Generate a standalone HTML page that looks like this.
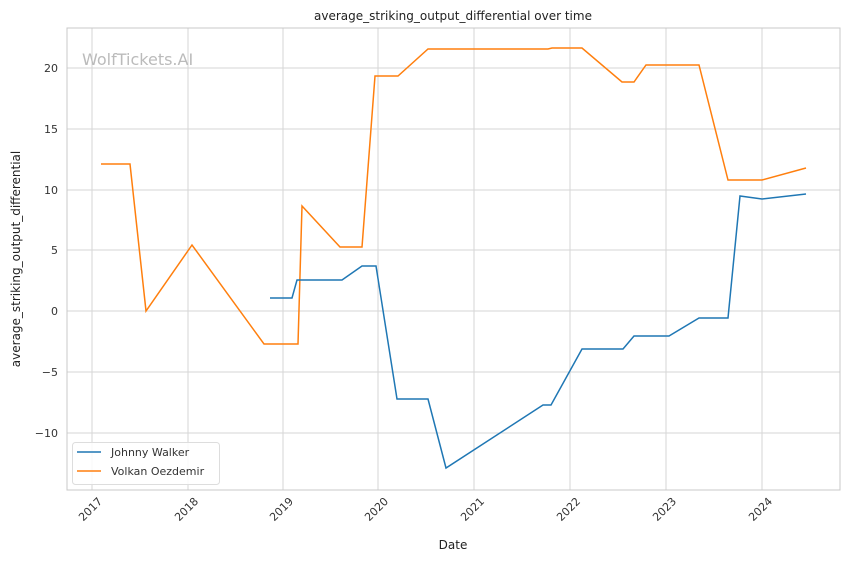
<!DOCTYPE html>
<html><head><meta charset="utf-8"><style>body{margin:0;background:#fff}svg{display:block;font-family:"DejaVu Sans","Liberation Sans",sans-serif}</style></head><body>
<svg width="850" height="561" viewBox="0 0 850 561">
<rect width="850" height="561" fill="#fff"/>
<g stroke="#d6d6d6" stroke-width="1">
<line x1="92" y1="28" x2="92" y2="490"/><line x1="188" y1="28" x2="188" y2="490"/><line x1="283" y1="28" x2="283" y2="490"/><line x1="378" y1="28" x2="378" y2="490"/><line x1="474" y1="28" x2="474" y2="490"/><line x1="570" y1="28" x2="570" y2="490"/><line x1="666" y1="28" x2="666" y2="490"/><line x1="762" y1="28" x2="762" y2="490"/>
<line x1="67" y1="68" x2="840" y2="68"/><line x1="67" y1="129" x2="840" y2="129"/><line x1="67" y1="190" x2="840" y2="190"/><line x1="67" y1="250" x2="840" y2="250"/><line x1="67" y1="311" x2="840" y2="311"/><line x1="67" y1="372" x2="840" y2="372"/><line x1="67" y1="433" x2="840" y2="433"/>
</g>
<rect x="67" y="28" width="773" height="462" fill="none" stroke="#c8c8c8"/>
<text x="82" y="65" font-size="16" fill="#bbb">WolfTickets.AI</text>
<polyline fill="none" stroke="#ff7f0e" stroke-width="1.5" points="101,164 130,164 146,311 192,245 264,344 298,344 302,206 340,247 362,247 375,76 398,76 428,49 548,49 552,48 582,48 622,82 634,82 646,65 699,65 728,180 762,180 806,168"/>
<polyline fill="none" stroke="#1f77b4" stroke-width="1.5" points="270,298 292,298 297,280 342,280 362,266 376,266 397,399 428,399 446,468 543,405 551,405 582,349 623,349 634,336 669,336 699,318 728,318 740,196 762,199 806,194"/>
<g font-size="11" fill="#333" text-anchor="end">
<text x="58" y="72">20</text><text x="58" y="133">15</text><text x="58" y="194">10</text><text x="58" y="254">5</text><text x="58" y="315">0</text><text x="58" y="376">−5</text><text x="58" y="437">−10</text>
</g>
<g font-size="11" fill="#333" text-anchor="end">
<text transform="translate(103,502) rotate(-45)">2017</text><text transform="translate(199,502) rotate(-45)">2018</text><text transform="translate(294,502) rotate(-45)">2019</text><text transform="translate(389,502) rotate(-45)">2020</text><text transform="translate(485,502) rotate(-45)">2021</text><text transform="translate(581,502) rotate(-45)">2022</text><text transform="translate(677,502) rotate(-45)">2023</text><text transform="translate(773,502) rotate(-45)">2024</text>
</g>
<text x="453" y="549" font-size="12" fill="#222" text-anchor="middle">Date</text>
<text transform="translate(20,259) rotate(-90)" font-size="12" fill="#222" text-anchor="middle">average_striking_output_differential</text>
<text x="453" y="20" font-size="12" fill="#222" text-anchor="middle">average_striking_output_differential over time</text>
<rect x="72.5" y="442.5" width="147" height="42" rx="3" fill="#fff" fill-opacity="0.85" stroke="#ddd"/>
<line x1="77" y1="452" x2="101" y2="452" stroke="#1f77b4" stroke-width="1.5"/>
<line x1="77" y1="471" x2="101" y2="471" stroke="#ff7f0e" stroke-width="1.5"/>
<text x="111" y="456" font-size="11" fill="#333">Johnny Walker</text>
<text x="111" y="475" font-size="11" fill="#333">Volkan Oezdemir</text>
</svg>
</body></html>
